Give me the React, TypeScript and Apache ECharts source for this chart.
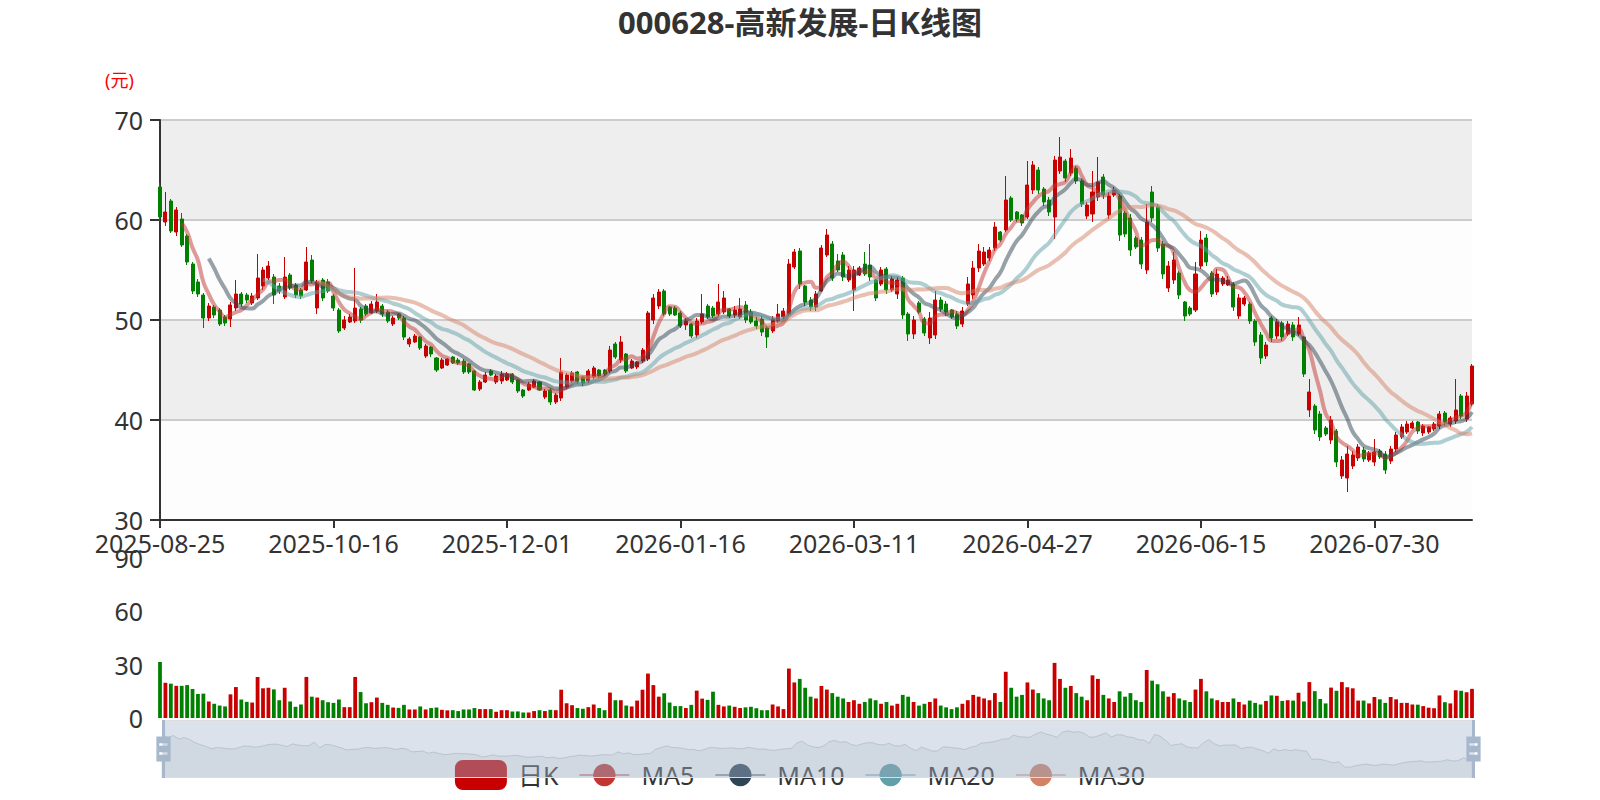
import React, { useEffect, useRef } from 'react';
import * as echarts from 'echarts';

// Trading calendar (category labels)
const tradeMonths: [string, number[]][] = [
  ['2025-08', [25, 26, 27, 28, 29]],
  ['2025-09', [1, 2, 3, 4, 5, 8, 9, 10, 11, 12, 15, 16, 17, 18, 19, 22, 23, 24, 25, 26, 29, 30]],
  ['2025-10', [9, 10, 13, 14, 15, 16, 17, 20, 21, 22, 23, 24, 27, 28, 29, 30, 31]],
  ['2025-11', [3, 4, 5, 6, 7, 10, 11, 12, 13, 14, 17, 18, 19, 20, 21, 24, 25, 26, 27, 28]],
  ['2025-12', [1, 2, 3, 4, 5, 8, 9, 10, 11, 12, 15, 16, 17, 18, 19, 22, 23, 24, 25, 26, 29, 30, 31]],
  ['2026-01', [5, 6, 7, 8, 9, 12, 13, 14, 15, 16, 19, 20, 21, 22, 23, 26, 27, 28, 29, 30]],
  ['2026-02', [2, 3, 4, 5, 6, 9, 10, 11, 12, 13, 24, 25, 26, 27]],
  ['2026-03', [2, 3, 4, 5, 6, 9, 10, 11, 12, 13, 16, 17, 18, 19, 20, 23, 24, 25, 26, 27, 30, 31]],
  ['2026-04', [1, 2, 3, 7, 8, 9, 10, 13, 14, 15, 16, 17, 20, 21, 22, 23, 24, 27, 28, 29, 30]],
  ['2026-05', [6, 7, 8, 11, 12, 13, 14, 15, 18, 19, 20, 21, 22, 25, 26, 27, 28, 29]],
  ['2026-06', [1, 2, 3, 4, 5, 8, 9, 10, 11, 12, 15, 16, 17, 18, 22, 23, 24, 25, 26, 29, 30]],
  ['2026-07', [1, 2, 3, 6, 7, 8, 9, 10, 13, 14, 15, 16, 17, 20, 21, 22, 23, 24, 27, 28, 29, 30, 31]],
  ['2026-08', [3, 4, 5, 6, 7, 10, 11, 12, 13, 14, 17, 18, 19, 20, 21, 24, 25]],
];

// Daily K: [open, close, low, high]
const ohlc: number[][] = [
  [63.3, 60.3, 59.9, 63.7], [59.8, 60.8, 59.4, 62.8], [61.9, 58.9, 58.7, 62.1], [58.8, 61.0, 58.4, 61.3],
  [60.1, 57.5, 57.3, 60.7], [58.4, 55.8, 55.5, 58.6], [55.6, 52.9, 52.6, 55.8], [53.8, 52.6, 52.3, 54.1],
  [52.5, 50.2, 49.2, 52.7], [50.2, 51.4, 49.9, 51.7], [51.3, 50.5, 50.2, 51.5], [51.0, 49.6, 49.4, 51.2],
  [50.3, 49.7, 49.4, 50.5], [50.1, 51.5, 49.3, 51.8], [51.2, 52.6, 50.9, 54.0], [52.6, 51.6, 51.3, 52.8],
  [52.5, 52.0, 51.7, 52.7], [51.7, 52.4, 51.5, 52.7], [52.2, 54.2, 52.0, 56.6], [53.4, 55.0, 53.0, 55.3],
  [54.2, 55.4, 54.0, 55.9], [54.3, 52.5, 51.6, 54.6], [53.4, 52.9, 52.6, 53.7], [52.3, 54.3, 52.1, 56.3],
  [54.5, 53.2, 53.0, 54.7], [53.5, 52.5, 52.2, 53.7], [53.0, 52.4, 52.1, 53.2], [53.0, 55.8, 52.9, 57.3],
  [56.0, 53.9, 53.7, 56.5], [51.2, 53.8, 50.6, 54.0], [54.0, 52.2, 51.9, 54.2], [53.8, 52.9, 52.7, 54.1],
  [52.4, 51.2, 50.9, 52.6], [51.0, 48.9, 48.7, 51.2], [49.2, 50.0, 49.0, 50.4], [49.8, 50.3, 49.7, 50.6],
  [49.9, 51.2, 49.7, 55.2], [51.1, 50.0, 49.7, 51.3], [51.4, 50.6, 50.4, 51.6], [50.7, 51.6, 50.6, 51.9],
  [50.9, 51.8, 50.7, 52.6], [51.4, 50.6, 50.3, 51.6], [50.8, 49.9, 49.7, 51.0], [49.6, 50.2, 49.4, 50.4],
  [50.6, 50.2, 50.0, 50.7], [50.2, 48.3, 48.0, 50.4], [47.6, 48.1, 47.3, 48.3], [47.8, 48.4, 47.7, 48.6],
  [48.3, 47.2, 47.0, 48.4], [46.4, 47.4, 46.2, 47.6], [47.3, 46.6, 46.3, 47.4], [46.2, 45.0, 44.8, 46.3],
  [45.2, 46.0, 45.1, 46.2], [45.5, 46.1, 45.4, 46.2], [46.3, 45.7, 45.6, 46.4], [46.0, 45.7, 45.5, 46.2],
  [45.9, 44.8, 44.6, 46.1], [45.6, 44.8, 44.6, 45.7], [44.9, 43.0, 42.9, 45.0], [43.1, 43.8, 42.9, 44.0],
  [43.8, 44.5, 43.7, 44.8], [44.9, 44.5, 44.4, 45.1], [43.8, 44.4, 43.6, 44.6], [43.9, 44.6, 43.6, 44.9],
  [44.0, 44.6, 43.9, 44.8], [44.6, 43.8, 43.6, 44.7], [44.0, 42.9, 42.7, 44.1], [43.0, 42.4, 42.2, 43.1],
  [43.0, 43.6, 42.9, 43.8], [43.3, 43.9, 43.2, 44.1], [43.8, 43.0, 42.9, 43.9], [42.3, 42.9, 42.1, 43.1],
  [43.0, 41.8, 41.5, 43.2], [41.8, 42.5, 41.6, 42.7], [42.2, 44.8, 41.9, 46.2], [43.3, 44.5, 43.1, 44.7],
  [43.9, 44.7, 43.7, 44.9], [44.8, 43.8, 43.6, 44.9], [44.3, 43.7, 43.4, 44.4], [43.9, 44.9, 43.7, 45.1],
  [44.3, 45.2, 44.1, 45.4], [45.0, 44.4, 44.2, 45.1], [45.0, 44.6, 44.4, 45.1], [44.9, 47.0, 44.7, 47.4],
  [47.6, 46.3, 46.1, 47.8], [46.0, 47.8, 45.7, 48.4], [46.6, 44.9, 44.7, 46.7], [45.2, 45.9, 45.1, 46.1],
  [45.3, 45.8, 45.1, 45.9], [45.9, 47.0, 45.7, 47.2], [46.1, 50.7, 45.9, 50.9], [50.0, 52.2, 49.6, 52.6],
  [51.4, 52.8, 51.1, 53.1], [52.9, 50.6, 50.4, 53.1], [51.3, 50.6, 50.4, 51.4], [51.2, 50.5, 50.4, 51.4],
  [50.7, 49.4, 49.2, 50.9], [49.5, 49.9, 49.0, 50.2], [49.6, 48.4, 48.2, 49.7], [48.5, 49.9, 48.2, 50.2],
  [49.8, 50.6, 49.6, 52.6], [51.4, 50.3, 50.1, 51.6], [51.2, 50.4, 50.2, 51.4], [50.6, 51.8, 50.4, 53.6],
  [50.8, 52.2, 50.6, 52.9], [51.1, 50.4, 50.2, 51.2], [50.5, 51.0, 50.2, 51.4], [50.3, 51.1, 50.1, 52.2],
  [51.5, 50.0, 49.7, 51.9], [50.8, 49.8, 49.6, 51.1], [49.9, 49.4, 49.1, 50.3], [50.1, 48.8, 48.4, 50.4],
  [49.2, 48.3, 47.2, 49.4], [48.9, 50.1, 48.7, 50.4], [49.9, 50.6, 49.7, 51.6], [50.3, 50.9, 50.1, 51.2],
  [50.6, 55.6, 50.4, 56.1], [55.3, 56.8, 55.1, 57.1], [56.9, 53.6, 53.1, 57.2], [53.4, 51.8, 51.4, 53.5],
  [52.0, 51.3, 50.9, 52.3], [51.3, 52.6, 50.9, 52.9], [52.9, 57.2, 52.8, 57.5], [56.5, 58.5, 56.3, 59.1],
  [57.6, 54.2, 53.9, 57.9], [55.9, 55.0, 54.8, 56.6], [56.5, 54.3, 53.9, 56.8], [54.0, 55.0, 53.8, 55.4],
  [53.0, 55.0, 50.9, 55.4], [54.5, 55.2, 54.4, 55.4], [55.6, 54.6, 54.4, 56.8], [55.5, 54.3, 53.9, 57.6],
  [54.0, 52.2, 51.9, 54.1], [53.6, 55.0, 53.4, 55.3], [55.1, 53.0, 52.6, 55.3], [53.0, 54.1, 52.8, 54.4],
  [52.6, 54.0, 52.1, 54.3], [54.2, 50.5, 50.1, 54.4], [50.6, 48.6, 47.9, 50.8], [48.6, 50.0, 48.1, 50.4],
  [51.7, 50.8, 50.6, 51.9], [50.1, 48.7, 48.4, 50.3], [48.2, 50.2, 47.6, 50.8], [48.5, 52.0, 48.1, 52.9],
  [52.0, 51.1, 50.8, 52.3], [51.6, 50.8, 50.4, 51.9], [51.0, 50.3, 50.1, 51.1], [50.6, 49.4, 49.1, 50.9],
  [49.6, 50.9, 49.3, 51.3], [51.6, 53.6, 51.4, 54.3], [52.5, 55.2, 52.1, 55.9], [55.2, 56.9, 54.8, 57.6],
  [55.6, 56.8, 55.4, 57.3], [56.2, 57.0, 55.9, 57.3], [57.2, 59.3, 56.9, 59.8], [58.8, 58.0, 57.8, 58.9],
  [59.0, 62.0, 58.8, 64.4], [62.2, 60.0, 59.8, 62.4], [60.8, 60.1, 59.8, 60.9], [60.5, 59.7, 59.4, 60.6],
  [60.3, 63.5, 60.1, 65.9], [63.0, 65.5, 62.6, 65.9], [65.0, 63.0, 62.6, 65.3], [63.1, 61.8, 61.4, 63.3],
  [62.0, 60.8, 60.4, 62.3], [60.3, 66.0, 58.1, 66.4], [64.9, 66.3, 64.6, 68.3], [65.9, 64.2, 63.8, 66.1],
  [64.7, 66.2, 64.4, 67.1], [65.2, 63.9, 63.6, 65.4], [63.9, 61.6, 61.3, 64.1], [60.4, 61.5, 60.1, 61.8],
  [60.6, 62.8, 59.8, 64.9], [62.3, 63.8, 61.9, 66.3], [64.3, 62.5, 62.1, 64.6], [60.5, 62.4, 60.1, 62.8],
  [62.5, 63.0, 62.3, 63.3], [62.4, 58.5, 57.9, 62.6], [60.7, 58.6, 58.3, 60.9], [60.2, 57.0, 56.4, 60.6],
  [58.2, 57.3, 57.1, 58.4], [58.0, 55.6, 55.1, 58.3], [55.0, 59.8, 54.6, 61.6], [62.8, 60.2, 59.8, 63.4],
  [61.3, 57.2, 56.8, 61.6], [57.6, 54.6, 54.1, 57.9], [53.2, 55.4, 52.8, 55.9], [54.0, 56.0, 53.6, 56.8],
  [54.7, 52.5, 52.1, 54.9], [51.8, 50.4, 49.9, 51.9], [51.2, 50.6, 50.4, 51.4], [51.0, 54.6, 50.8, 55.8],
  [55.4, 58.0, 55.1, 58.9], [58.2, 55.8, 55.4, 58.6], [54.7, 52.6, 52.3, 54.9], [52.8, 54.6, 52.5, 55.1],
  [53.6, 54.2, 53.4, 54.4], [53.5, 54.0, 53.4, 54.4], [53.6, 51.3, 50.9, 53.8], [50.4, 52.2, 50.1, 52.6],
  [51.6, 52.2, 51.4, 52.4], [51.6, 49.9, 49.6, 51.8], [49.9, 47.8, 47.4, 50.1], [48.5, 46.2, 45.6, 48.8],
  [46.4, 47.5, 46.1, 47.8], [50.2, 48.2, 47.8, 50.4], [48.4, 49.8, 48.1, 50.1], [49.7, 48.3, 47.9, 49.9],
  [48.6, 49.6, 48.4, 49.9], [49.5, 48.3, 47.9, 49.8], [48.6, 49.5, 48.4, 50.3], [48.3, 44.6, 44.3, 48.4],
  [41.0, 42.8, 40.3, 44.1], [41.4, 39.0, 38.6, 41.6], [40.6, 38.3, 37.9, 40.9], [39.2, 38.6, 38.4, 39.4],
  [38.0, 40.0, 37.6, 40.4], [38.9, 35.8, 35.3, 39.1], [34.4, 36.0, 34.1, 36.4], [34.2, 36.6, 32.8, 37.4],
  [35.4, 36.5, 35.1, 36.9], [36.2, 37.3, 35.9, 37.6], [37.0, 36.1, 35.8, 37.3], [36.0, 36.7, 35.8, 36.9],
  [35.8, 36.8, 35.4, 38.1], [36.9, 36.3, 36.1, 37.1], [36.6, 35.0, 34.6, 36.9], [35.9, 37.1, 35.6, 37.4],
  [37.1, 38.5, 36.8, 38.8], [38.3, 39.3, 38.1, 39.6], [38.8, 39.6, 38.6, 39.9], [39.2, 39.7, 39.1, 39.9],
  [39.8, 38.9, 38.6, 39.9], [38.7, 39.4, 38.4, 39.6], [38.8, 39.3, 38.6, 39.4], [39.1, 39.6, 38.9, 39.8],
  [39.4, 40.6, 39.1, 40.9], [40.7, 39.8, 39.4, 40.9], [39.6, 40.2, 39.3, 40.4], [39.9, 41.0, 39.6, 44.1],
  [42.4, 40.4, 40.1, 42.6], [40.1, 42.4, 39.8, 42.8], [41.6, 45.4, 41.4, 45.6],
];

// Volume
const volumes: number[] = [
  31.5, 19.8, 19.3, 18.1, 18.1, 18.5, 16.3, 13.5, 13.7, 9.3,
  8.0, 7.0, 6.5, 13.3, 17.4, 10.4, 9.1, 8.7, 23.1, 16.7,
  17.0, 16.1, 10.0, 17.0, 9.3, 6.3, 7.6, 23.1, 12.0, 11.5,
  10.0, 8.9, 8.5, 10.4, 6.1, 6.1, 23.1, 14.6, 8.3, 8.9,
  11.5, 8.5, 7.4, 5.9, 5.7, 7.4, 4.8, 4.8, 6.5, 4.8,
  5.6, 5.9, 4.6, 4.3, 4.4, 3.9, 4.8, 4.8, 5.6, 5.0,
  5.0, 5.0, 3.5, 4.4, 4.4, 3.7, 3.7, 3.1, 3.1, 3.9,
  4.4, 3.9, 4.6, 4.4, 15.9, 8.3, 7.2, 5.6, 5.2, 6.1,
  7.6, 5.6, 4.4, 14.3, 10.0, 10.0, 7.0, 6.5, 9.8, 15.9,
  25.0, 18.5, 12.0, 13.9, 8.7, 6.7, 6.7, 5.6, 7.4, 15.4,
  10.9, 10.2, 14.8, 7.4, 6.5, 7.0, 6.3, 5.6, 6.0, 6.3,
  5.5, 4.4, 4.4, 7.6, 6.5, 5.0, 27.8, 20, 22, 17,
  12, 11, 18, 16, 14, 12, 11, 9, 10, 8,
  9, 11, 10, 8, 9, 7, 8, 13, 12, 9,
  7, 8, 9, 11, 7, 6, 5, 6, 8, 10,
  13, 12, 11, 10, 14, 9, 26, 17, 12, 13,
  20, 16, 14, 11, 10, 31, 22, 17, 18, 14,
  12, 10, 24, 22, 13, 11, 9, 15, 12, 14,
  10, 9, 27, 21, 19, 15, 12, 14, 11, 10,
  9, 16, 22, 15, 11, 10, 9, 9, 11, 9,
  7.6, 9.8, 8.5, 7.6, 9.6, 12.7, 12.5, 9.6, 10.0, 9.8,
  14.2, 9.3, 20.2, 15.1, 10.7, 8.2, 17.1, 15.3, 20.2, 17.3,
  16.7, 9.8, 9.8, 8.2, 11.8, 10.5, 8.5, 11.8, 10.5, 8.5,
  8.5, 7.6, 7.5, 6.7, 5.8, 5.5, 12.7, 8.9, 8.2, 15.6,
  15.3, 14.5, 16.4,
];

const maPeriods = [5, 10, 20, 30];
const maColors = ['#c23531', '#2f4554', '#61a0a8', '#d48265'];
const upColor = '#c80000';
const downColor = '#008000';
const FONT = '"Noto Sans", "Noto Sans CJK SC", sans-serif';

const dates: string[] = [];
tradeMonths.forEach(([m, days]) => days.forEach((d) => dates.push(`${m}-${String(d).padStart(2, '0')}`)));

function movingAverage(n: number): (number | string)[] {
  const out: (number | string)[] = [];
  for (let i = 0; i < ohlc.length; i++) {
    if (i < n - 1) { out.push('-'); continue; }
    let s = 0;
    for (let j = 0; j < n; j++) s += ohlc[i - j][1];
    out.push(+(s / n).toFixed(3));
  }
  return out;
}

const V4_HANDLE = 'path://M8.2,13.6V3.9H6.3v9.7H3.1v14.9h3.3v9.7h1.8v-9.7h3.3V13.6H8.2z M9.7,24.4H4.8v-1.4h4.9V24.4z M9.7,19.1H4.8v-1.4h4.9V19.1z';

export default function App() {
  const ref = useRef<HTMLDivElement>(null);
  useEffect(() => {
    document.body.style.margin = '0';
    if (!ref.current) return;
    const chart = echarts.init(ref.current, undefined, { renderer: 'svg' });
    const maSeries = maPeriods.map((p, k) => ({
      name: 'MA' + p,
      type: 'line',
      data: movingAverage(p),
      smooth: true,
      symbol: 'circle',
      showSymbol: false,
      color: maColors[k],
      lineStyle: { width: 4, opacity: 0.5, color: maColors[k] },
      itemStyle: { color: maColors[k] },
    }));
    const shadowStyle = {
      lineStyle: { color: '#2f4554', width: 0.8, opacity: 0.3 },
      areaStyle: { color: 'rgba(47,69,84,0.3)', opacity: 0.3 },
    };
    chart.setOption({
      animation: false,
      textStyle: { fontFamily: FONT },
      title: {
        text: '000628-高新发展-日K线图',
        left: 'center',
        top: 1,
        textStyle: { fontSize: 31, fontWeight: 'bold', color: '#333', fontFamily: FONT },
      },
      legend: {
        data: ['日K', 'MA5', 'MA10', 'MA20', 'MA30'],
        bottom: 5,
        left: 'center',
        itemWidth: 50,
        itemHeight: 28,
        itemGap: 20,
        textStyle: { fontSize: 25, color: '#333', fontFamily: FONT, padding: [0, 0, 0, 7] },
        z: 1,
      },
      graphic: [
        { type: 'text', left: 105, top: 71, z: 5, style: { text: '(元)', fill: '#ff0000', fontSize: 18, fontFamily: FONT } },
      ],
      grid: [
        { left: 160, right: 128, top: 120, height: 400 },
        { left: 160, right: 128, top: 558, height: 160 },
      ],
      xAxis: [
        {
          type: 'category',
          data: dates,
          boundaryGap: false,
          axisLine: { lineStyle: { color: '#333', width: 2 } },
          axisTick: { length: 8, interval: 31, lineStyle: { width: 2 } },
          axisLabel: { interval: 31, fontSize: 25, color: '#333', margin: 10, fontFamily: FONT },
          splitLine: { show: false },
        },
        {
          type: 'category',
          gridIndex: 1,
          data: dates,
          boundaryGap: false,
          axisLine: { show: false },
          axisTick: { show: false },
          axisLabel: { show: false },
          splitLine: { show: false },
        },
      ],
      yAxis: [
        {
          type: 'value',
          min: 30,
          max: 70,
          interval: 10,
          axisLine: { show: true, lineStyle: { color: '#333', width: 2 } },
          axisTick: { show: true, length: 10, lineStyle: { width: 2 } },
          axisLabel: { fontSize: 25, color: '#333', margin: 17, fontFamily: FONT },
          splitLine: { show: true, lineStyle: { color: '#ccc', width: 2 } },
          splitArea: { show: true, areaStyle: { color: ['rgba(250,250,250,0.3)', 'rgba(200,200,200,0.3)'] } },
        },
        {
          type: 'value',
          gridIndex: 1,
          min: 0,
          max: 90,
          interval: 30,
          axisLine: { show: false },
          axisTick: { show: false },
          splitLine: { show: false },
          axisLabel: { fontSize: 25, color: '#333', margin: 17, fontFamily: FONT },
        },
      ],
      dataZoom: [
        { type: 'inside', xAxisIndex: [0, 1], start: 0, end: 100 },
        {
          type: 'slider',
          xAxisIndex: [0, 1],
          start: 0,
          end: 100,
          left: 160,
          right: 128,
          top: 720,
          height: 58,
          showDetail: false,
          brushSelect: false,
          moveHandleSize: 0,
          handleIcon: V4_HANDLE,
          handleSize: '100%',
          handleStyle: { color: '#a7b7cc', borderColor: '#a7b7cc', borderWidth: 0, opacity: 1 },
          fillerColor: 'rgba(167,183,204,0.4)',
          borderColor: '#ddd',
          backgroundColor: 'rgba(47,69,84,0)',
          dataBackground: shadowStyle,
          selectedDataBackground: shadowStyle,
          z: 10,
        },
      ],
      series: [
        {
          name: '日K',
          type: 'candlestick',
          data: ohlc,
          barWidth: '65%',
          itemStyle: { color: upColor, color0: downColor, borderColor: upColor, borderColor0: downColor },
        },
        ...maSeries,
        {
          name: 'Volume',
          type: 'bar',
          xAxisIndex: 1,
          yAxisIndex: 1,
          barWidth: '70%',
          data: volumes.map((v, i) => ({
            value: v,
            itemStyle: { color: ohlc[i][1] >= ohlc[i][0] ? upColor : downColor },
          })),
        },
      ],
    });
    return () => chart.dispose();
  }, []);
  return <div ref={ref} style={{ width: 1600, height: 800 }} />;
}
